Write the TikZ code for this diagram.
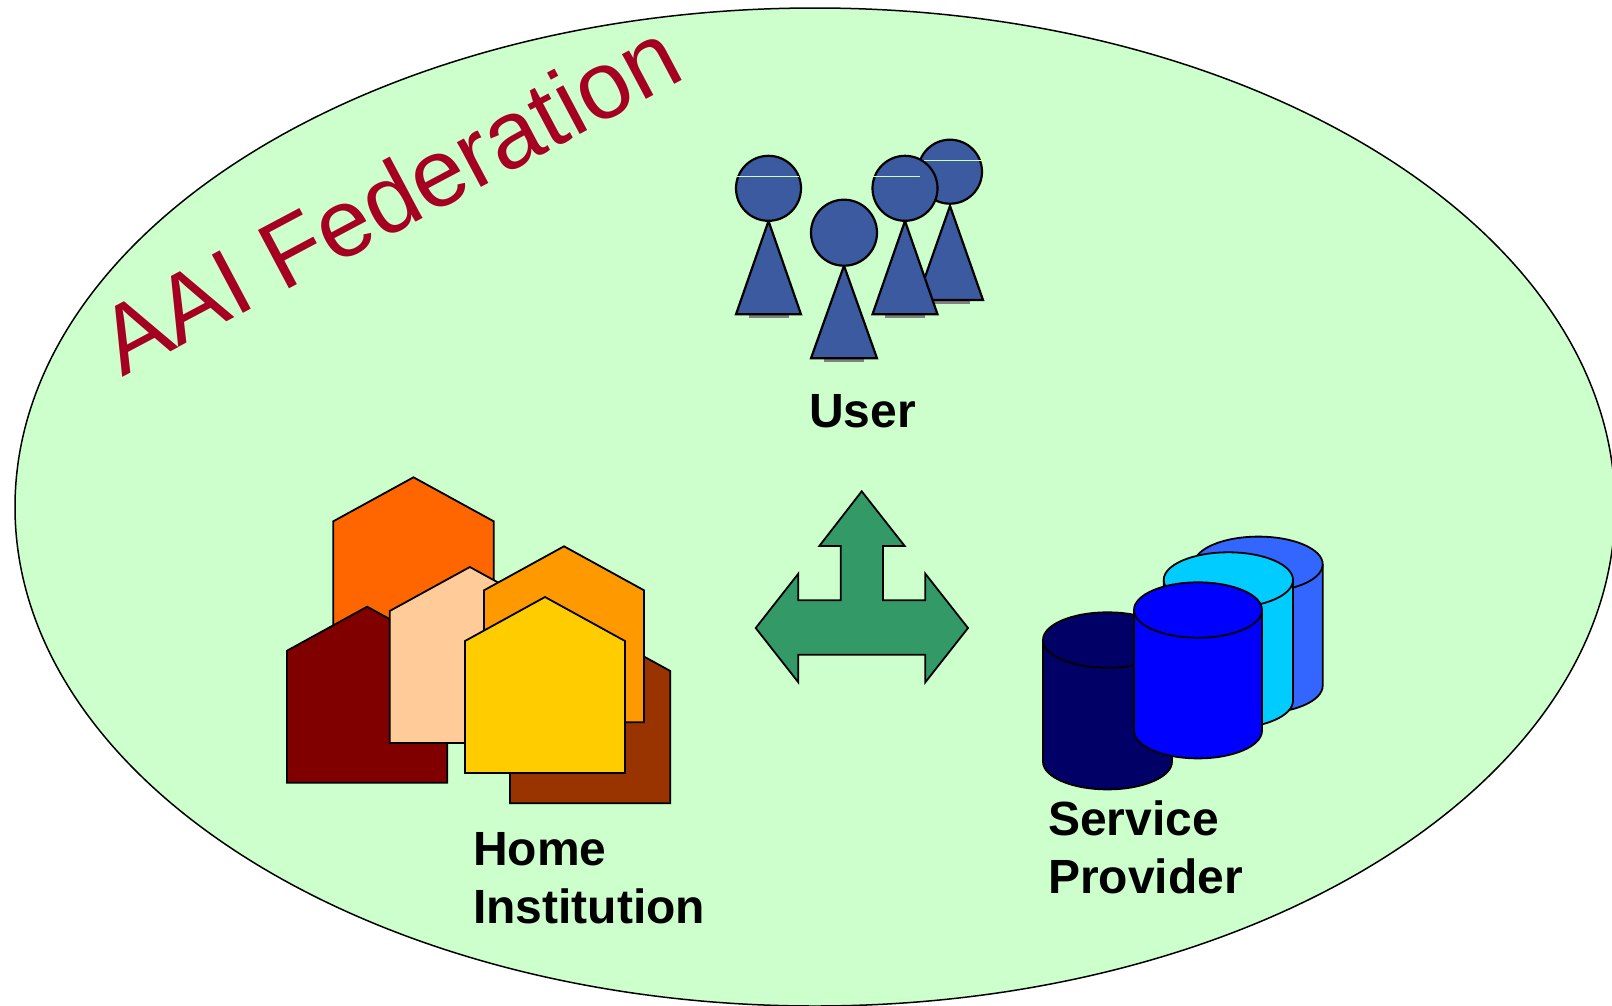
\documentclass[tikz,border=0pt]{standalone}
\usepackage{fontspec}
\setmainfont{Liberation Sans}
\definecolor{fedgreen}{HTML}{CCFFCC}
\definecolor{fedred}{HTML}{A50021}
\definecolor{userblue}{HTML}{3C5AA0}
\definecolor{arrowgreen}{HTML}{339966}
\definecolor{homeorange}{HTML}{FF6600}
\definecolor{homebrown}{HTML}{993300}
\definecolor{homedark}{HTML}{800000}
\definecolor{homepeach}{HTML}{FFCC99}
\definecolor{homeamber}{HTML}{FF9900}
\definecolor{homeyellow}{HTML}{FFCC00}
\definecolor{spsky}{HTML}{3366FF}
\definecolor{spcyan}{HTML}{00CCFF}
\definecolor{spnavy}{HTML}{000066}
\definecolor{spblue}{HTML}{0000FF}
\tikzstyle{federation}=[draw,fill=fedgreen,line width=1.5pt]
\tikzstyle{outlined}=[draw,line width=1.8pt,line join=miter]
\tikzstyle{caption}=[anchor=base west,inner sep=0pt,align=left,font=\bfseries\fontsize{48}{58.3}\selectfont]
\tikzstyle{fedtitle}=[anchor=base west,inner sep=0pt,text=fedred,rotate=28,font=\fontsize{96}{96}\selectfont]
\tikzstyle{crease}=[draw=fedgreen,line width=1pt]
\newcommand{\house}[6]{% fill, left, right, apex y, shoulder y, bottom
  \draw[outlined,fill=#1] ({(#2+#3)/2},#4) -- (#3,#5) -- (#3,#6) -- (#2,#6) -- (#2,#5) -- cycle;}
\newcommand{\drum}[5]{% fill, left, right, top y, bottom y
  \draw[outlined,fill=#1] (#2,#4) -- (#2,#5) arc (180:0:{(#3-#2)/2} and 27.7) -- (#3,#4) arc (0:-180:{(#3-#2)/2} and 27.7) -- cycle;
  \draw[outlined] (#2,#4) arc (180:0:{(#3-#2)/2} and 27.7);}
\newcommand{\person}[6]{% x, head y, head radius, apex y, half base, base y
  \fill[gray] (#1-20,#6) rectangle (#1+20,#6+4);
  \draw[outlined,line width=2.2pt,fill=userblue] (#1,#4) -- (#1+#5,#6) -- (#1-#5,#6) -- cycle;
  \draw[outlined,line width=2.2pt,fill=userblue] (#1,#2) circle (#3);}
\begin{document}
\begin{tikzpicture}[x=1pt,y=-1pt]
  \useasboundingbox (0,0) rectangle (1612,1005);
  \draw[federation] (815,507) ellipse (800 and 499);
  \node[fedtitle] (fed) at (122,378) {AAI Federation};
  % users
  \person{950}{171.7}{32}{206}{33}{300}
  \draw[crease] (921.7,160.3) -- (981.7,160.3);
  \person{905}{188.3}{32.5}{221}{32.5}{314.3}
  \draw[crease] (872.7,176) -- (920,176);
  \person{768.5}{188.3}{32.5}{221}{32.5}{314.3}
  \draw[crease] (736.7,176) -- (799.3,176);
  \person{844}{232.7}{33}{265.7}{33}{358.3}
  \node[caption] (user) at (809,427) {User};
  % home institutions
  \house{homeorange}{333.3}{493.7}{477.3}{521.3}{653.6}
  \house{homebrown}{510}{670.3}{627}{671}{803.3}
  \house{homedark}{287}{447.3}{606.7}{650.7}{782.7}
  \house{homepeach}{389.7}{550}{567}{611}{743}
  \house{homeamber}{484}{644}{546.3}{590.3}{722.3}
  \house{homeyellow}{465}{625}{597}{641}{773}
  \node[caption] (home) at (473,923.5) {Home\\Institution};
  % three way arrow
  \draw[outlined,fill=arrowgreen] (861.7,491.3) -- (904.7,546) -- (883,546) -- (883,600.3) -- (925.3,600.3) -- (925.3,573.7) -- (968,628) -- (925.3,682.3) -- (925.3,654.7) -- (798.3,654.7) -- (798.3,682.3) -- (755.7,628) -- (798.3,573.7) -- (798.3,600.3) -- (840.7,600.3) -- (840.7,546) -- (819.3,546) -- cycle;
  % service providers
  \drum{spsky}{1194}{1322.7}{564.3}{685.7}
  \drum{spcyan}{1163.7}{1293}{580}{700.7}
  \drum{spnavy}{1043}{1172}{640}{761.7}
  \drum{spblue}{1134}{1262}{610}{730.7}
  \node[caption] (sp) at (1048,893.5) {Service\\Provider};
\end{tikzpicture}
\end{document}
